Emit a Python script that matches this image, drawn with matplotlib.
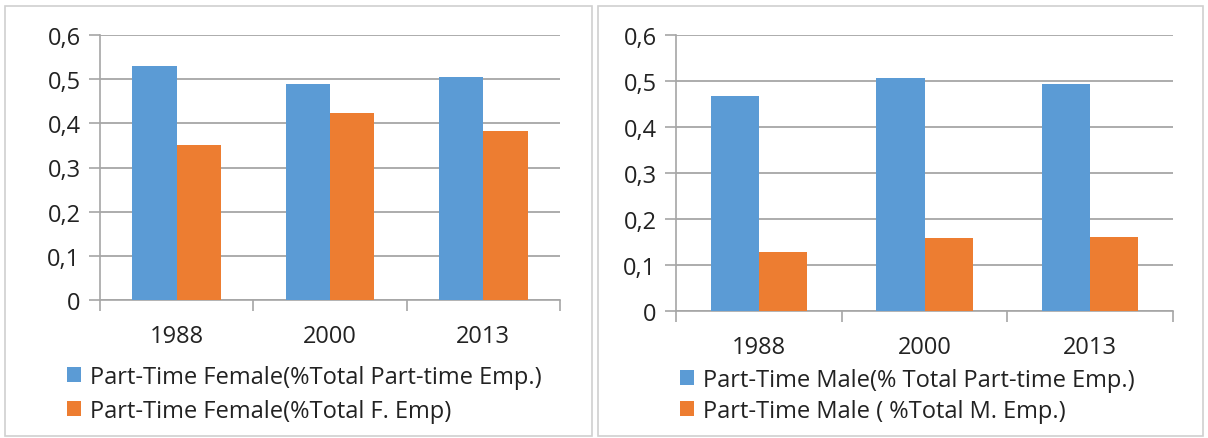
import matplotlib
matplotlib.use("Agg")
import matplotlib.pyplot as plt
from matplotlib.patches import Rectangle, Patch
import numpy as np

years = ["1988", "2000", "2013"]
female_share_pt = [0.530, 0.490, 0.505]
female_pt_rate = [0.350, 0.424, 0.383]
male_share_pt = [0.467, 0.507, 0.493]
male_pt_rate = [0.128, 0.158, 0.161]

labels_left = ["Part-Time Female(%Total Part-time Emp.)", "Part-Time Female(%Total F. Emp)"]
labels_right = ["Part-Time Male(% Total Part-time Emp.)", "Part-Time Male ( %Total M. Emp.)"]
yticks = [0, 0.1, 0.2, 0.3, 0.4, 0.5, 0.6]
ytick_labels = ["0", "0,1", "0,2", "0,3", "0,4", "0,5", "0,6"]

BLUE = "#5B9BD5"
ORANGE = "#ED7D31"
GRID = "#A6A6A6"
TEXT = "#222222"
FS = 17

plt.rcParams['font.family'] = ['Open Sans', 'DejaVu Sans']

W, H = 1208, 439
fig = plt.figure(figsize=(W / 100, H / 100), dpi=100)

def fx(x):
    return x / W

def fy(y):
    return 1 - y / H

# panel borders
for (x0, x1) in [(5, 592), (598, 1203)]:
    fig.patches.append(Rectangle((fx(x0), fy(437)), fx(x1 - x0), (437 - 7) / H,
                                 transform=fig.transFigure, fill=False,
                                 edgecolor="#D0D0D0", linewidth=1.2))

def panel(rect, s1, s2, labels, leg_anchor, lspace):
    ax = fig.add_axes(rect)
    x = np.arange(len(years))
    w = 0.29
    ax.bar(x - w / 2, s1, w, color=BLUE, zorder=3)
    ax.bar(x + w / 2, s2, w, color=ORANGE, zorder=3)
    ax.set_xlim(-0.5, len(years) - 0.5)
    ax.set_ylim(0, 0.6)
    ax.set_yticks(yticks)
    ax.set_yticklabels(ytick_labels)
    ax.set_xticks(x)
    ax.set_xticklabels(years)
    ax.set_xticks(np.arange(-0.5, len(years), 1.0), minor=True)
    ax.tick_params(axis='x', which='major', length=0, pad=17, labelsize=FS, labelcolor=TEXT)
    ax.tick_params(axis='x', which='minor', length=8, width=1.2, color=GRID, direction='out')
    ax.tick_params(axis='y', length=8, width=1.2, color=GRID, pad=6, labelsize=FS, labelcolor=TEXT)
    ax.grid(axis='y', color=GRID, linewidth=1.3, zorder=0)
    for s in ['top', 'right']:
        ax.spines[s].set_visible(False)
    for s in ['left', 'bottom']:
        ax.spines[s].set_color(GRID)
        ax.spines[s].set_linewidth(1.2)
    handles = [Patch(facecolor=BLUE), Patch(facecolor=ORANGE)]
    fig.legend(handles, labels, loc='upper left', bbox_to_anchor=leg_anchor,
               bbox_transform=fig.transFigure, frameon=False, fontsize=FS,
               handlelength=0.6, handleheight=0.6, handletextpad=0.36,
               labelspacing=lspace, labelcolor=TEXT, borderaxespad=0, borderpad=0)
    return ax

panel([fx(100), fy(301), fx(460), (301 - 36) / H], female_share_pt, female_pt_rate,
      labels_left, (fx(67), fy(366)), 0.42)
panel([fx(676), fy(312), fx(497), (312 - 36) / H], male_share_pt, male_pt_rate,
      labels_right, (fx(680), fy(369)), 0.28)

fig.savefig("out.png", dpi=100, facecolor="white")
